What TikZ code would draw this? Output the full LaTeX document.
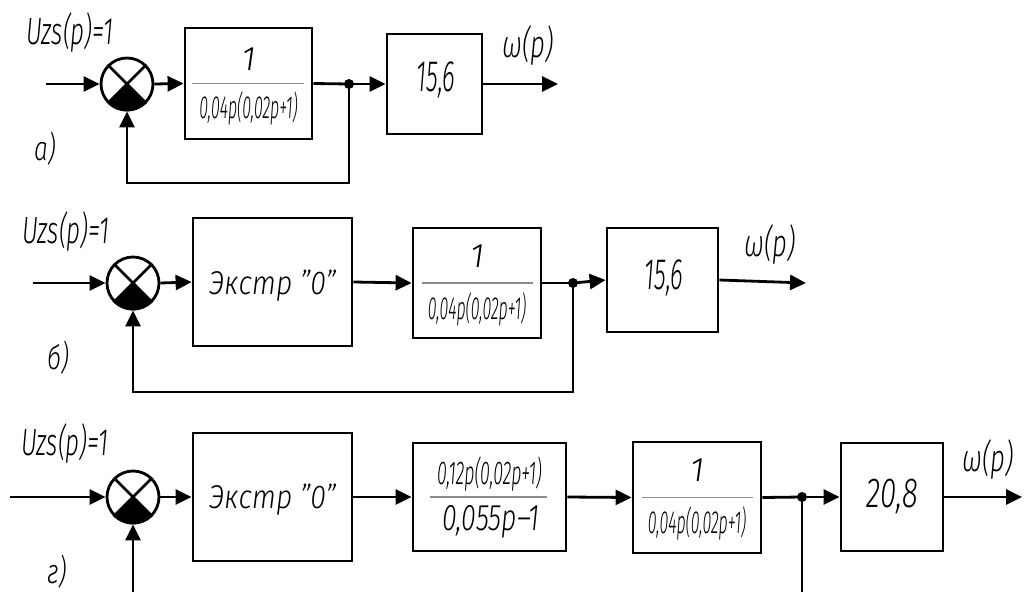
\documentclass[tikz,border=0pt]{standalone}
\usepackage{fontspec}
\setmainfont{Fira Sans Light}[ItalicFont={Fira Sans Light Italic}]
\usetikzlibrary{arrows.meta,positioning,calc}

% narrow drawing-style lettering
\newcommand{\nrw}[2]{\scalebox{#1}[1]{#2}}

\begin{document}
\begin{tikzpicture}[x=1pt,y=-1pt,
                    line width=2.8pt,
                    blk/.style 2 args={draw, rectangle, inner sep=0pt, minimum width=#1, minimum height=#2},
                    sumnode/.style={draw, circle, inner sep=0pt, minimum size=52pt},
                    fw/.style={-{Triangle[length=16pt,width=15pt]}},
                    fracline/.style={draw=black!45, line width=1.2pt},
                    lbl/.style={inner sep=0pt, font=\fontsize{#1}{#1}\selectfont\itshape},
                    lbl/.default=34,
                ]
    \useasboundingbox (0,0) rectangle (1024,591);

    % ---- a) ----
    \coordinate (ina) at (46,84);
    \node[sumnode] (sa) at (127,84) {};
    \node[blk={127}{111}] (ba1) at (248.5,83.5) {};
    \coordinate (ja) at (349,84);
    \node[blk={95}{100}] (ba2) at (434.5,84) {};
    \coordinate (outa) at (558,84);

    \node[lbl=38] (ua) at (70,32) {\nrw{0.64}{Uzs(p)=1}};
    \node[lbl] (ta) at (45,149) {\nrw{0.72}{а)}};
    \node[lbl=38] (wa) at (528,45) {\nrw{0.68}{ω(p)}};
    \node[lbl=34] (na1) at (248.5,59) {1};
    \node[lbl=32] (da1) at (248.5,108) {\nrw{0.5}{0,04p(0,02p+1)}};
    \node[lbl=44] (ka) at (436,80) {\nrw{0.55}{15,6}};
    \draw[fracline] ([xshift=8pt]ba1.west) -- ([xshift=-9pt]ba1.east);

    \draw[fw] (ina) -- (sa.west);
    \draw[fw] (sa.east) -- (ba1.west);
    \draw (ba1.east) -- (ja);
    \draw[fw] (ja) -- (ba2.west);
    \draw[fw] (ba2.east) -- (outa);
    \draw[fw] (ja) -- ++(0,99) -| (sa.south);
    \fill (ja) circle[radius=5pt];

    % ---- b) ----
    \coordinate (inb) at (33,283);
    \node[sumnode] (sb) at (133,283) {};
    \node[blk={159}{128}] (bb1) at (272.5,282) {};
    \node[blk={128}{110}] (bb2) at (477,283) {};
    \coordinate (jb) at (573,283);
    \node[blk={111}{104}] (bb3) at (662.5,280) {};
    \coordinate (outb) at (806,283);

    \node[lbl=38] (ub) at (66,231) {\nrw{0.64}{Uzs(p)=1}};
    \node[lbl] (tb) at (58,358) {\nrw{0.72}{б)}};
    \node[lbl=38] (wb) at (770,244) {\nrw{0.68}{ω(p)}};
    \node[lbl=33] (eb) at (272.5,286) {\nrw{0.86}{Экстр "0"}};
    \node[lbl=34] (nb2) at (477,256) {1};
    \node[lbl=32] (db2) at (477,309) {\nrw{0.5}{0,04p(0,02p+1)}};
    \node[lbl=44] (kb) at (664,278) {\nrw{0.55}{15,6}};
    \draw[fracline] ([xshift=10pt]bb2.west) -- ([xshift=-9pt]bb2.east);

    \draw[fw] (inb) -- (sb.west);
    \draw[fw] (sb.east) -- (bb1.west);
    \draw[fw] (bb1.east) -- (bb2.west);
    \draw (bb2.east) -- (jb);
    \draw[fw] (jb) -- (bb3.west);
    \draw[fw] (bb3.east) -- (outb);
    \draw[fw] (jb) -- ++(0,109) -| (sb.south);
    \fill (jb) circle[radius=5pt];

    % ---- g) ----
    \coordinate (ing) at (10,497);
    \node[sumnode] (sg) at (133,497) {};
    \node[blk={159}{128}] (bg1) at (272.5,497) {};
    \node[blk={153}{108}] (bg2) at (489.5,497) {};
    \node[blk={128}{111}] (bg3) at (697,497.5) {};
    \coordinate (jg) at (802,497);
    \node[blk={102}{108}] (bg4) at (892,497) {};
    \coordinate (outg) at (1022,497);

    \node[lbl=38] (ug) at (65,443) {\nrw{0.64}{Uzs(p)=1}};
    \node[lbl] (tg) at (57,572) {\nrw{0.72}{г)}};
    \node[lbl=38] (wg) at (988,459) {\nrw{0.68}{ω(p)}};
    \node[lbl=33] (eg) at (272.5,500) {\nrw{0.86}{Экстр "0"}};
    \node[lbl=33] (ng2) at (489.5,474) {\nrw{0.54}{0,12p(0,02p+1)}};
    \node[lbl=37] (dg2) at (491,522) {\nrw{0.72}{0,055p--1}};
    \node[lbl=34] (ng3) at (697,470) {1};
    \node[lbl=32] (dg3) at (697,523) {\nrw{0.5}{0,04p(0,02p+1)}};
    \node[lbl=42] (kg) at (892,496) {\nrw{0.7}{20,8}};
    \draw[fracline] ([xshift=18pt]bg2.west) -- ([xshift=-20pt]bg2.east);
    \draw[fracline] ([xshift=10pt]bg3.west) -- ([xshift=-9pt]bg3.east);

    \draw[fw] (ing) -- (sg.west);
    \draw[fw] (sg.east) -- (bg1.west);
    \draw[fw] (bg1.east) -- (bg2.west);
    \draw[fw] (bg2.east) -- (bg3.west);
    \draw (bg3.east) -- (jg);
    \draw[fw] (jg) -- (bg4.west);
    \draw[fw] (bg4.east) -- (outg);
    \draw[fw] (jg) -- ++(0,96) -| (sg.south);
    \fill (jg) circle[radius=5pt];

    % summing junctions
    \foreach \s in {sa,sb,sg} {
        \fill (\s.center) \foreach \a in {-45,-50,...,-135} { -- (\s.\a) } -- cycle;
        \draw (\s.45) -- (\s.-135) (\s.135) -- (\s.-45);
    }
\end{tikzpicture}
\end{document}
